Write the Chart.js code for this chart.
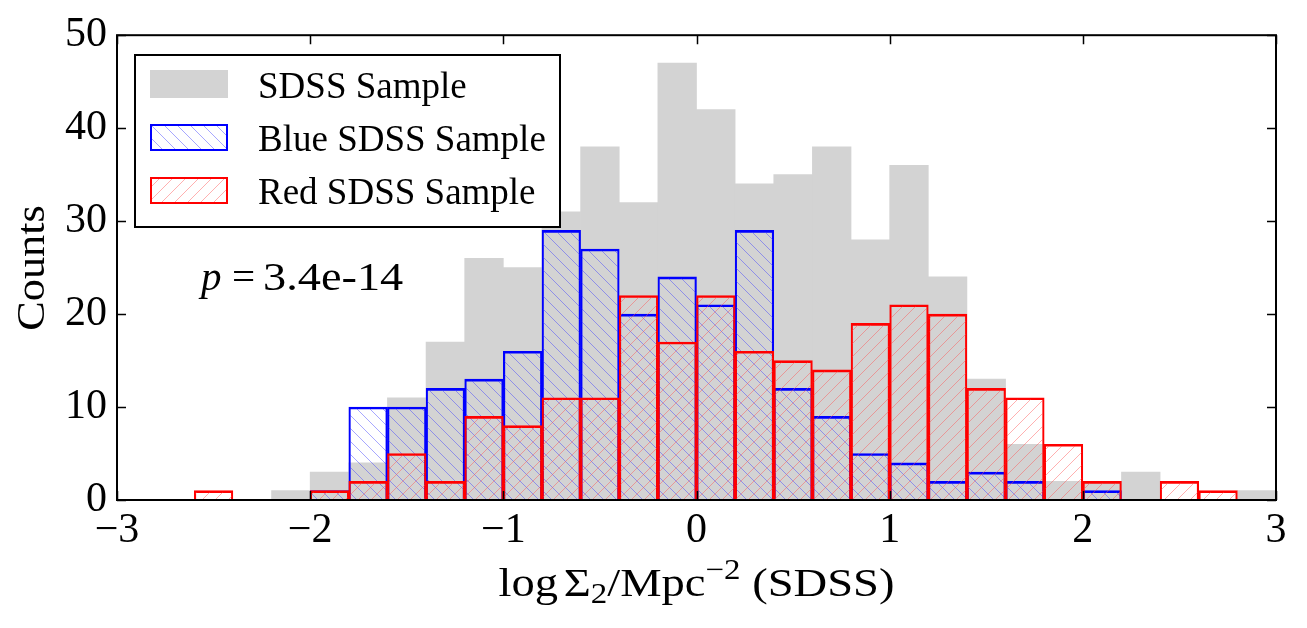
<!DOCTYPE html>
<html>
<head>
<meta charset="utf-8">
<title>log Sigma_2 histogram (SDSS)</title>
<script src="https://cdn.jsdelivr.net/npm/chart.js@4.4.1/dist/chart.umd.min.js"></script>
<style>
  html, body { margin: 0; padding: 0; background: #fff; }
  #wrap { width: 1307px; height: 628px; }
</style>
</head>
<body>
<div id="wrap"><canvas id="hist" width="1307" height="628"></canvas></div>
<script>
// bin centres, 0.2 wide, from -3 to 3
const binCenters = [-2.9, -2.7, -2.5, -2.3, -2.1, -1.9, -1.7, -1.5, -1.3, -1.1,
                    -0.9, -0.7, -0.5, -0.3, -0.1, 0.1, 0.3, 0.5, 0.7, 0.9,
                    1.1, 1.3, 1.5, 1.7, 1.9, 2.1, 2.3, 2.5, 2.7, 2.9];
const sdssCounts = [0, 0, 0, 0, 1, 3, 4, 11, 17, 26,
                    25, 31, 38, 32, 47, 42, 34, 35, 38, 28,
                    36, 24, 13, 6, 2, 2, 3, 0, 0, 1];
const blueCounts = [0, 0, 0, 0, 0, 1, 10, 10, 12, 13,
                    16, 29, 27, 20, 24, 21, 29, 12, 9, 5,
                    4, 2, 3, 2, 0, 1, 0, 0, 0, 0];
const redCounts  = [0, 0, 1, 0, 0, 1, 2, 5, 2, 9,
                    8, 11, 11, 22, 17, 22, 16, 15, 14, 19,
                    21, 20, 12, 11, 6, 2, 0, 2, 1, 0];
const xTicks = [-3, -2, -1, 0, 1, 2, 3];
const yTicks = [0, 10, 20, 30, 40, 50];
const seriesNames = ['SDSS Sample', 'Blue SDSS Sample', 'Red SDSS Sample'];
const pText = '3.4e-14';

const SERIF = '"Liberation Serif", "DejaVu Serif", serif';

// hatch tiles, anchored to the canvas so lines run on across bars
function makeHatch(color, dir) {
  const s = 13;
  const c = document.createElement('canvas');
  c.width = s; c.height = s;
  const g = c.getContext('2d');
  g.strokeStyle = color;
  g.lineWidth = 1;
  g.beginPath();
  for (const k of [-s, 0, s]) {
    if (dir === 'back') { g.moveTo(k, 0); g.lineTo(k + s, s); }
    else { g.moveTo(k, s); g.lineTo(k + s, 0); }
  }
  g.stroke();
  return g.createPattern(c, 'repeat');
}
const blueHatch = makeHatch('rgba(60,60,255,0.45)', 'back');
const redHatch = makeHatch('rgba(255,80,80,0.45)', 'fwd');

const pts = arr => arr.map((v, i) => ({ x: binCenters[i], y: v }));
const edge = { top: 2, left: 1.5, right: 1.5, bottom: 0 };

// frame, inward ticks, legend, annotation and axis titles
const decorations = {
  id: 'decorations',
  afterDraw(chart) {
    const ctx = chart.ctx;
    const a = chart.chartArea;
    const xs = chart.scales.x, ys = chart.scales.y;
    ctx.save();

    // ticks pointing in, on all four sides
    ctx.strokeStyle = '#000';
    ctx.lineWidth = 1.5;
    ctx.beginPath();
    xTicks.forEach(t => {
      const px = Math.round(xs.getPixelForValue(t)) + 0.5;
      ctx.moveTo(px, a.bottom); ctx.lineTo(px, a.bottom - 9);
      ctx.moveTo(px, a.top); ctx.lineTo(px, a.top + 9);
    });
    yTicks.forEach(t => {
      const py = Math.round(ys.getPixelForValue(t)) + 0.5;
      ctx.moveTo(a.left, py); ctx.lineTo(a.left + 9, py);
      ctx.moveTo(a.right, py); ctx.lineTo(a.right - 9, py);
    });
    ctx.stroke();

    // frame
    ctx.lineWidth = 2;
    ctx.strokeRect(a.left, a.top, a.right - a.left, a.bottom - a.top);

    // legend
    ctx.fillStyle = '#fff';
    ctx.fillRect(135, 55, 425, 172);
    ctx.strokeStyle = '#000';
    ctx.lineWidth = 2;
    ctx.strokeRect(135, 55, 425, 172);

    ctx.fillStyle = '#d3d3d3';
    ctx.fillRect(150, 70, 78, 28);
    [[124, '#0000ff', blueHatch], [177, '#ff0000', redHatch]].forEach(([y, col, pat]) => {
      ctx.fillStyle = pat;
      ctx.fillRect(150, y, 78, 27);
      ctx.strokeStyle = col;
      ctx.lineWidth = 2;
      ctx.strokeRect(151, y + 1, 76, 25);
    });
    ctx.fillStyle = '#000';
    ctx.font = '37px ' + SERIF;
    ctx.textBaseline = 'alphabetic';
    ctx.textAlign = 'left';
    [98, 151, 204].forEach((y, i) => ctx.fillText(seriesNames[i], 258, y));

    // p-value
    ctx.font = 'italic 41px ' + SERIF;
    ctx.fillText('p', 201, 290);
    ctx.font = '41px ' + SERIF;
    ctx.fillText('=', 232, 290);
    ctx.save();
    ctx.translate(263, 290);
    ctx.scale(1.13, 1);
    ctx.fillText(pText, 0, 0);
    ctx.restore();

    // y title
    ctx.save();
    ctx.translate(44, 268);
    ctx.rotate(-Math.PI / 2);
    ctx.textAlign = 'center';
    ctx.font = '41px ' + SERIF;
    ctx.scale(1.08, 1);
    ctx.fillText('Counts', 0, 0);
    ctx.restore();

    // x title: log Σ_2 / Mpc^-2 (SDSS)
    const parts = [
      { t: 'log', s: 41, dy: 0 },
      { t: ' ', s: 20, dy: 0 },
      { t: '\u03A3', s: 41, dy: 0 },
      { t: '2', s: 29, dy: 7 },
      { t: '/Mpc', s: 41, dy: 0 },
      { t: '\u22122', s: 29, dy: -17 },
      { t: ' (SDSS)', s: 41, dy: 0 }
    ];
    let w = 0;
    parts.forEach(p => { ctx.font = p.s + 'px ' + SERIF; p.w = ctx.measureText(p.t).width; w += p.w; });
    const sx = 396 / w;
    ctx.save();
    ctx.translate((a.left + a.right) / 2, 596);
    ctx.scale(sx, 1);
    let x = -w / 2;
    parts.forEach(p => {
      ctx.font = p.s + 'px ' + SERIF;
      ctx.fillText(p.t, x, p.dy);
      x += p.w;
    });
    ctx.restore();

    ctx.restore();
  }
};

new Chart(document.getElementById('hist'), {
  type: 'bar',
  data: {
    datasets: [
      {
        label: seriesNames[2], data: pts(redCounts), order: 1,
        backgroundColor: redHatch, borderColor: '#ff0000', borderWidth: edge, borderSkipped: false
      },
      {
        label: seriesNames[1], data: pts(blueCounts), order: 2,
        backgroundColor: blueHatch, borderColor: '#0000ff', borderWidth: edge, borderSkipped: false
      },
      {
        label: seriesNames[0], data: pts(sdssCounts), order: 3,
        backgroundColor: '#d3d3d3', borderWidth: 0
      }
    ]
  },
  options: {
    responsive: false,
    animation: false,
    devicePixelRatio: 1,
    layout: { padding: { top: 35, right: 31, left: 0, bottom: 0 } },
    datasets: { bar: { grouped: false, barPercentage: 1, categoryPercentage: 1 } },
    plugins: { legend: { display: false }, tooltip: { enabled: false } },
    scales: {
      x: {
        type: 'linear', min: -3, max: 3, offset: false,
        grid: { display: false, drawTicks: false, offset: false },
        border: { display: false },
        afterBuildTicks: s => { s.ticks = xTicks.map(v => ({ value: v })); },
        afterFit: s => { s.height = 128; },
        ticks: {
          color: '#000', padding: 6, maxRotation: 0, autoSkip: false,
          font: { family: SERIF, size: 42 },
          callback: v => String(v).replace('-', '\u2212')
        }
      },
      y: {
        min: 0, max: 50,
        grid: { display: false, drawTicks: false },
        border: { display: false },
        afterBuildTicks: s => { s.ticks = yTicks.map(v => ({ value: v })); },
        afterFit: s => { s.width = 117; },
        ticks: {
          color: '#000', padding: 10,
          font: { family: SERIF, size: 42 }
        }
      }
    }
  },
  plugins: [decorations]
});
</script>
</body>
</html>
